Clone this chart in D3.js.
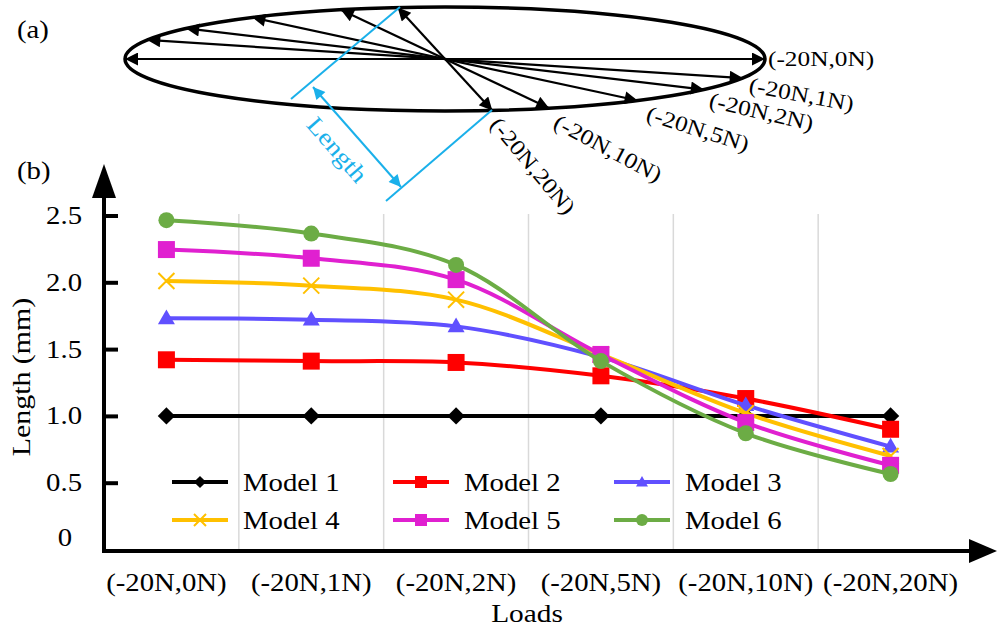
<!DOCTYPE html>
<html>
<head>
<meta charset="utf-8">
<script src="https://cdn.jsdelivr.net/npm/d3@7"></script>
<style>
  html, body { margin: 0; padding: 0; background: #fff; }
  svg { display: block; font-family: "Liberation Serif", "Times New Roman", serif; }
</style>
</head>
<body>
<svg id="chart" width="997" height="629"></svg>
<script>
// ---- data ----
const loads = ["(-20N,0N)", "(-20N,1N)", "(-20N,2N)", "(-20N,5N)", "(-20N,10N)", "(-20N,20N)"];
const model1 = [1.00, 1.00, 1.00, 1.00, 1.00, 1.00];
const model2 = [1.42, 1.41, 1.40, 1.30, 1.13, 0.90];
const model3 = [1.73, 1.72, 1.67, 1.44, 1.08, 0.77];
const model4 = [2.01, 1.975, 1.87, 1.46, 1.02, 0.70];
const model5 = [2.245, 2.18, 2.02, 1.46, 0.95, 0.63];
const model6 = [2.465, 2.365, 2.13, 1.41, 0.87, 0.565];
const seriesNames = ["Model 1", "Model 2", "Model 3", "Model 4", "Model 5", "Model 6"];
const yTicks = [0, 0.5, 1.0, 1.5, 2.0, 2.5];
// direction of each load in panel (a), as parametric angle on the ellipse (degrees)
const loadAngles = [0, 21.5, 36, 53, 71, 81.5];

// ---- styles ----
const seriesStyle = [
  { color: "#000000", shape: "diamond" },
  { color: "#ff0000", shape: "square" },
  { color: "#6050ff", shape: "triangle" },
  { color: "#ffc000", shape: "cross" },
  { color: "#e020d0", shape: "square" },
  { color: "#6cac45", shape: "circle" }
];
const seriesValues = [model1, model2, model3, model4, model5, model6];
const series = seriesNames.map((name, i) => ({ name, values: seriesValues[i], ...seriesStyle[i] }));

const svg = d3.select("#chart");
const defs = svg.append("defs");
const FS = 25;
const cyan = "#1ab0ea";

function addArrowMarker(id, color, w, h) {
  defs.append("marker")
    .attr("id", id)
    .attr("viewBox", "0 0 10 10")
    .attr("refX", 10).attr("refY", 5)
    .attr("markerUnits", "userSpaceOnUse")
    .attr("markerWidth", w).attr("markerHeight", h)
    .attr("orient", "auto-start-reverse")
    .append("path").attr("d", "M0,0 L10,5 L0,10 Z").attr("fill", color);
}
addArrowMarker("arrowBlack", "#000", 16, 13);
addArrowMarker("arrowCyan", cyan, 15, 12);

// ================= panel (a): load directions =================
const ell = { cx: 445, cy: 59, rx: 320, ry: 52 };
const gA = svg.append("g");

gA.append("ellipse")
  .attr("cx", ell.cx).attr("cy", ell.cy).attr("rx", ell.rx).attr("ry", ell.ry)
  .attr("fill", "none").attr("stroke", "#000").attr("stroke-width", 3.5);

const rad = d => d * Math.PI / 180;
loadAngles.forEach(a => {
  const dx = ell.rx * Math.cos(rad(a)), dy = ell.ry * Math.sin(rad(a));
  gA.append("line")
    .attr("x1", ell.cx - dx).attr("y1", ell.cy - dy)
    .attr("x2", ell.cx + dx).attr("y2", ell.cy + dy)
    .attr("stroke", "#000").attr("stroke-width", 2.2)
    .attr("marker-start", "url(#arrowBlack)")
    .attr("marker-end", "url(#arrowBlack)");
});

// labels of the directions
const dirLabelPos = [
  { x: 768, y: 66, rot: 0 },
  { x: 748, y: 92, rot: 10.5 },
  { x: 708, y: 107, rot: 13 },
  { x: 645, y: 120, rot: 17.5 },
  { x: 552, y: 127, rot: 28 },
  { x: 489, y: 125, rot: 50 }
];
loads.forEach((t, i) => {
  const p = dirLabelPos[i];
  gA.append("text")
    .attr("transform", `translate(${p.x},${p.y}) rotate(${p.rot})`)
    .attr("font-size", 22).attr("fill", "#000")
    .text(t);
});

// "Length" dimension
const dim = gA.append("g").attr("stroke", cyan).attr("stroke-width", 2).attr("fill", "none");
dim.append("line").attr("x1", 400).attr("y1", 7).attr("x2", 291).attr("y2", 99);
dim.append("line").attr("x1", 492).attr("y1", 110).attr("x2", 386).attr("y2", 201);
dim.append("line").attr("x1", 313).attr("y1", 87).attr("x2", 401).attr("y2", 187)
  .attr("marker-start", "url(#arrowCyan)").attr("marker-end", "url(#arrowCyan)");
gA.append("text")
  .attr("transform", "translate(331,155) rotate(49)")
  .attr("text-anchor", "middle")
  .attr("font-size", 24).attr("fill", cyan)
  .text("Length");

svg.append("text").attr("x", 17).attr("y", 38).attr("font-size", 25).text("(a)");
svg.append("text").attr("x", 17).attr("y", 179).attr("font-size", 25).text("(b)");

// ================= panel (b): line chart =================
const axisX0 = 104;
const x = d3.scaleBand().domain(loads).range([94, 963]).padding(0);
const y = d3.scaleLinear().domain([0, 2.5]).range([549.5, 215.5]);
const cx = d => x(d) + x.bandwidth() / 2;

// vertical grid lines at category boundaries
const gGrid = svg.append("g");
loads.slice(1).forEach(l => {
  gGrid.append("line")
    .attr("x1", x(l)).attr("x2", x(l))
    .attr("y1", 214).attr("y2", 549)
    .attr("stroke", "#d9d9d9").attr("stroke-width", 1.5);
});

// y axis (ticks pointing into the plot)
const gY = svg.append("g")
  .attr("transform", `translate(${axisX0},0)`)
  .call(d3.axisLeft(y).tickValues(yTicks).tickSize(-14).tickPadding(22)
    .tickFormat(d => d === 0 ? "0" : d3.format(".1f")(d)));
gY.attr("font-family", null).attr("font-size", null);
gY.select(".domain").remove();
gY.selectAll(".tick line").attr("stroke", "#000").attr("stroke-width", 4);
gY.selectAll(".tick text").attr("font-size", FS).attr("fill", "#000");
gY.selectAll(".tick").filter(d => d === 0).each(function () {
  d3.select(this).select("line").remove();
  d3.select(this).select("text").attr("x", -32).attr("dy", "-0.18em");
});

// x axis labels
const gX = svg.append("g")
  .attr("transform", `translate(0,551)`)
  .call(d3.axisBottom(x).tickSize(0).tickPadding(22));
gX.attr("font-family", null).attr("font-size", null);
gX.select(".domain").remove();
gX.selectAll(".tick text").attr("font-size", FS).attr("fill", "#000");

// axis lines with arrowheads
svg.append("line").attr("x1", axisX0).attr("x2", axisX0).attr("y1", 553).attr("y2", 192)
  .attr("stroke", "#000").attr("stroke-width", 4);
svg.append("path").attr("d", `M${axisX0 - 12},198 L${axisX0},164 L${axisX0 + 12},198 Z`).attr("fill", "#000");
svg.append("line").attr("x1", axisX0 - 2).attr("x2", 975).attr("y1", 551).attr("y2", 551)
  .attr("stroke", "#000").attr("stroke-width", 4);
svg.append("path").attr("d", `M969,539 L997,551 L969,563 Z`).attr("fill", "#000");

// axis titles
svg.append("text")
  .attr("transform", "translate(30,377) rotate(-90)")
  .attr("text-anchor", "middle").attr("font-size", 26)
  .text("Length (mm)");
svg.append("text")
  .attr("x", 527).attr("y", 622)
  .attr("text-anchor", "middle").attr("font-size", 25.5)
  .text("Loads");

// marker drawing
function drawMarker(g, shape, color, px, py, s) {
  if (shape === "diamond") {
    g.append("path").attr("d", d3.symbol(d3.symbolSquare, (s * 0.72) ** 2)())
      .attr("transform", `translate(${px},${py}) rotate(45)`).attr("fill", color);
  } else if (shape === "square") {
    g.append("path").attr("d", d3.symbol(d3.symbolSquare, s * s)())
      .attr("transform", `translate(${px},${py})`).attr("fill", color);
  } else if (shape === "triangle") {
    g.append("path").attr("d", d3.symbol(d3.symbolTriangle, Math.sqrt(3) / 4 * s * s)())
      .attr("transform", `translate(${px},${py + 1})`).attr("fill", color);
  } else if (shape === "circle") {
    g.append("path").attr("d", d3.symbol(d3.symbolCircle, Math.PI * (s / 2) ** 2)())
      .attr("transform", `translate(${px},${py})`).attr("fill", color);
  } else if (shape === "cross") {
    g.append("path").attr("d", d3.symbol(d3.symbolTimes, (s / 2 / 0.6189) ** 2 + 2)())
      .attr("transform", `translate(${px},${py})`)
      .attr("fill", "none").attr("stroke", color).attr("stroke-width", 2);
  }
}

const markerSize = { diamond: 17, square: 17, triangle: 17, circle: 16, cross: 16 };
const line = d3.line()
  .x((d, i) => cx(loads[i]))
  .y(d => y(d))
  .curve(d3.curveCatmullRom.alpha(0.5));

const gS = svg.append("g");
series.forEach(s => {
  const g = gS.append("g");
  g.append("path").attr("d", line(s.values))
    .attr("fill", "none").attr("stroke", s.color).attr("stroke-width", 4)
    .attr("stroke-linejoin", "round");
  s.values.forEach((v, i) => drawMarker(g, s.shape, s.color, cx(loads[i]), y(v), markerSize[s.shape]));
});

// legend
const legendCols = [172, 393, 614];
const legendRows = [482, 520];
const gL = svg.append("g");
series.forEach((s, i) => {
  const lx = legendCols[i % 3], ly = legendRows[Math.floor(i / 3)];
  gL.append("line").attr("x1", lx).attr("x2", lx + 56).attr("y1", ly).attr("y2", ly)
    .attr("stroke", s.color).attr("stroke-width", 4);
  drawMarker(gL, s.shape, s.color, lx + 28, ly, 12);
  gL.append("text").attr("x", lx + 71).attr("y", ly + 9).attr("font-size", FS).text(s.name);
});

// wide serif rendering of all text
svg.selectAll("text").each(function () {
  const w = this.getComputedTextLength();
  d3.select(this).attr("textLength", w * 1.15).attr("lengthAdjust", "spacingAndGlyphs");
});
</script>
</body>
</html>
